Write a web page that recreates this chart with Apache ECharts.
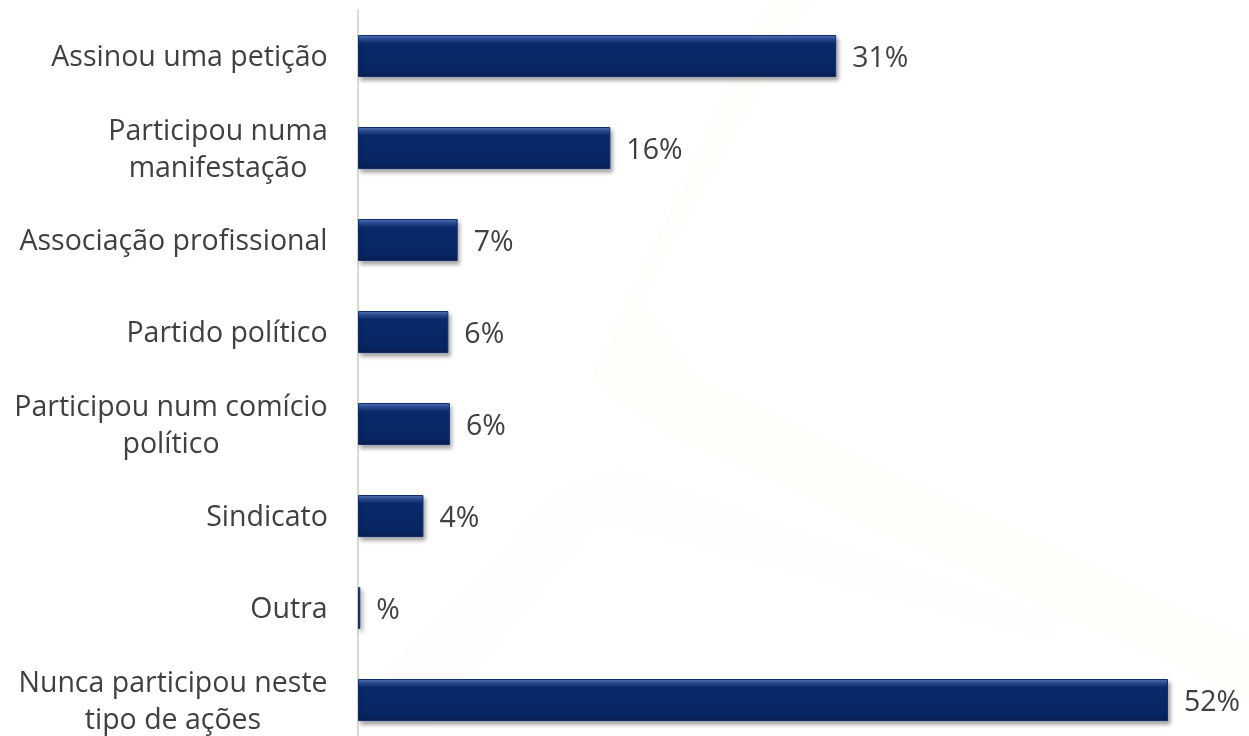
<!DOCTYPE html>
<html>
<head>
<meta charset="UTF-8">
<title>Participação</title>
<script src="https://cdn.jsdelivr.net/npm/echarts@6/dist/echarts.min.js"></script>
<style>
  html, body { margin: 0; padding: 0; background: #fff; }
  #main { width: 1249px; height: 736px; }
</style>
</head>
<body>
<div id="main"></div>
<script>
var categories = [
    'Assinou uma petição',
    'Participou numa\nmanifestação',
    'Associação profissional',
    'Partido político',
    'Participou num comício\npolítico',
    'Sindicato',
    'Outra',
    'Nunca participou neste\ntipo de ações'
];
var values = [30.7, 16.2, 6.4, 5.8, 5.9, 4.2, 0.15, 52];
var valueLabels = ['31%', '16%', '7%', '6%', '6%', '4%', '%', '52%'];

var FONT = 'Open Sans';
var SIZE = 28.5;

// multi-line labels are centred line by line, block right aligned
var ctx = document.createElement('canvas').getContext('2d');
ctx.font = SIZE + 'px "' + FONT + '"';
var rich = {};
categories.forEach(function (c, i) {
    var w = Math.max.apply(null, c.split('\n').map(function (l) { return ctx.measureText(l).width; }));
    rich['c' + i] = { width: Math.ceil(w), align: 'center', fontFamily: FONT, fontSize: SIZE, color: '#404040', lineHeight: 37 };
});

var myChart = echarts.init(document.getElementById('main'));
var option = {
    backgroundColor: '#fff',
    animation: false,
    // faint watermark behind the plot
    graphic: [{
        type: 'polygon',
        z: -10,
        shape: { points: [[770, 0], [810, 0], [640, 300], [700, 380], [1249, 640], [1249, 700], [660, 430], [590, 380]] },
        style: { fill: 'rgba(240,200,130,0.045)' }
    }, {
        type: 'polygon',
        z: -10,
        shape: { points: [[560, 490], [620, 470], [1060, 620], [1050, 640], [600, 520], [420, 736], [360, 736], [360, 700]] },
        style: { fill: 'rgba(240,200,130,0.035)' }
    }],
    grid: {
        left: 358,
        right: 81,
        top: 10,
        bottom: -10,
        outerBoundsMode: 'none'
    },
    xAxis: {
        type: 'value',
        min: 0,
        max: 52,
        show: false
    },
    yAxis: {
        type: 'category',
        inverse: true,
        data: categories,
        axisLine: { show: true, lineStyle: { color: '#d9d9d9', width: 2 } },
        axisTick: { show: false },
        axisLabel: {
            margin: 30,
            padding: [4, 0, 0, 0],
            formatter: function (v) {
                var i = categories.indexOf(v);
                return v.split('\n').map(function (l) { return '{c' + i + '|' + l + '}'; }).join('\n');
            },
            rich: rich
        }
    },
    series: [{
        type: 'bar',
        data: values,
        barWidth: 42,
        itemStyle: {
            color: new echarts.graphic.LinearGradient(0, 0, 0, 1, [
                { offset: 0, color: '#5a7cc0' },
                { offset: 0.1, color: '#2a4d95' },
                { offset: 0.2, color: '#0a2a6c' },
                { offset: 0.85, color: '#072563' },
                { offset: 1, color: '#0b1f50' }
            ]),
            borderColor: '#102f70',
            borderWidth: 1,
            shadowColor: 'rgba(0,0,0,0.35)',
            shadowBlur: 4,
            shadowOffsetX: 2,
            shadowOffsetY: 3
        },
        label: {
            show: true,
            position: 'right',
            distance: 16,
            offset: [0, 3],
            fontFamily: FONT,
            fontSize: SIZE,
            color: '#404040',
            formatter: function (p) { return valueLabels[p.dataIndex]; }
        }
    }]
};
myChart.setOption(option);
</script>
</body>
</html>
